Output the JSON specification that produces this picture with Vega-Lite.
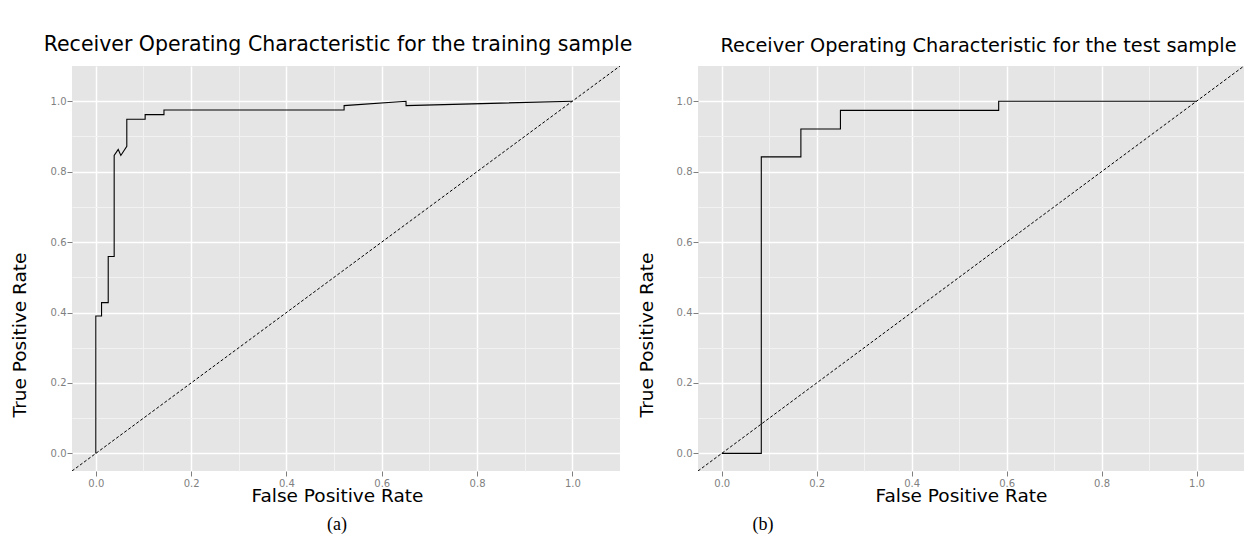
{
  "$schema": "https://vega.github.io/schema/vega-lite/v6.json",
  "padding": {"left": 10, "top": 34, "right": 0, "bottom": 0},
  "background": "white",
  "datasets": {
    "train": [
      {"step": 1, "fpr": 0, "tpr": 0},
      {"step": 2, "fpr": 0, "tpr": 0.39},
      {"step": 3, "fpr": 0.012, "tpr": 0.39},
      {"step": 4, "fpr": 0.012, "tpr": 0.428},
      {"step": 5, "fpr": 0.026, "tpr": 0.428},
      {"step": 6, "fpr": 0.026, "tpr": 0.559},
      {"step": 7, "fpr": 0.0385, "tpr": 0.559},
      {"step": 8, "fpr": 0.0385, "tpr": 0.846},
      {"step": 9, "fpr": 0.047, "tpr": 0.863},
      {"step": 10, "fpr": 0.0525, "tpr": 0.846},
      {"step": 11, "fpr": 0.065, "tpr": 0.872},
      {"step": 12, "fpr": 0.065, "tpr": 0.949},
      {"step": 13, "fpr": 0.1035, "tpr": 0.949},
      {"step": 14, "fpr": 0.1035, "tpr": 0.962},
      {"step": 15, "fpr": 0.143, "tpr": 0.962},
      {"step": 16, "fpr": 0.143, "tpr": 0.975},
      {"step": 17, "fpr": 0.521, "tpr": 0.975},
      {"step": 18, "fpr": 0.521, "tpr": 0.9875},
      {"step": 19, "fpr": 0.651, "tpr": 1.0},
      {"step": 20, "fpr": 0.651, "tpr": 0.9875},
      {"step": 21, "fpr": 1.0, "tpr": 1.0}
    ],
    "test": [
      {"step": 1, "fpr": 0, "tpr": 0},
      {"step": 2, "fpr": 0.0833, "tpr": 0},
      {"step": 3, "fpr": 0.0833, "tpr": 0.842},
      {"step": 4, "fpr": 0.1667, "tpr": 0.842},
      {"step": 5, "fpr": 0.1667, "tpr": 0.921},
      {"step": 6, "fpr": 0.25, "tpr": 0.921},
      {"step": 7, "fpr": 0.25, "tpr": 0.974},
      {"step": 8, "fpr": 0.5833, "tpr": 0.974},
      {"step": 9, "fpr": 0.5833, "tpr": 1.0},
      {"step": 10, "fpr": 1.0, "tpr": 1.0}
    ],
    "diag": [
      {"step": 1, "fpr": -0.05, "tpr": -0.05},
      {"step": 2, "fpr": 1.1, "tpr": 1.1}
    ]
  },
  "config": {
    "font": "DejaVu Sans",
    "view": {"fill": "#E5E5E5", "stroke": null},
    "axis": {
      "domain": false,
      "labelFont": "DejaVu Sans",
      "labelFontSize": 10,
      "labelColor": "#7F7F7F",
      "tickColor": "#7F7F7F",
      "tickSize": 5,
      "tickWidth": 1,
      "gridColor": "#FFFFFF",
      "gridWidth": 1.5,
      "titleFont": "DejaVu Sans",
      "titleFontSize": 18.5,
      "titleFontWeight": "normal",
      "titleColor": "#000000"
    },
    "title": {"font": "DejaVu Sans", "fontSize": 20.5, "fontWeight": "normal", "color": "#000000"}
  },
  "spacing": 4,
  "hconcat": [
    {
      "title": {"text": "(a)", "orient": "bottom", "font": "Liberation Serif", "fontSize": 18, "anchor": "middle", "frame": "group", "baseline": "alphabetic", "offset": 25, "dx": 265},
      "vconcat": [
        {
          "width": 548,
          "height": 405,
          "title": {"text": "Receiver Operating Characteristic for the training sample", "anchor": "middle", "frame": "group", "baseline": "alphabetic", "offset": -5, "dx": -8},
          "encoding": {
            "x": {"field": "fpr", "type": "quantitative", "title": "False Positive Rate",
              "scale": {"domain": [-0.05, 1.1], "nice": false, "zero": false},
              "axis": {
                "values": [0, 0.1, 0.2, 0.3, 0.4, 0.5, 0.6, 0.7, 0.8, 0.9, 1.0],
                "labelExpr": "round(datum.value*10) % 2 == 0 ? format(datum.value, '.1f') : ''",
                "labelPadding": 2,
                "tickOpacity": {"condition": {"test": "round(datum.value*10) % 2 == 0", "value": 1}, "value": 0},
                "gridColor": {"condition": {"test": "round(datum.value*10) % 2 == 0", "value": "#FFFFFF"}, "value": "#F2F2F2"},
                "gridWidth": {"condition": {"test": "round(datum.value*10) % 2 == 0", "value": 1.5}, "value": 1},
                "titleX": 265, "titleY": 30, "titleBaseline": "alphabetic"
              }},
            "y": {"field": "tpr", "type": "quantitative", "title": "True Positive Rate",
              "scale": {"domain": [-0.05, 1.1], "nice": false, "zero": false},
              "axis": {
                "values": [0, 0.1, 0.2, 0.3, 0.4, 0.5, 0.6, 0.7, 0.8, 0.9, 1.0],
                "labelExpr": "round(datum.value*10) % 2 == 0 ? format(datum.value, '.1f') : ''",
                "labelPadding": 1,
                "tickOpacity": {"condition": {"test": "round(datum.value*10) % 2 == 0", "value": 1}, "value": 0},
                "gridColor": {"condition": {"test": "round(datum.value*10) % 2 == 0", "value": "#FFFFFF"}, "value": "#F2F2F2"},
                "gridWidth": {"condition": {"test": "round(datum.value*10) % 2 == 0", "value": 1.5}, "value": 1},
                "titleX": -47, "titleY": 268.5, "titleBaseline": "alphabetic"
              }},
            "order": {"field": "step", "type": "quantitative"}
          },
          "layer": [
            {"data": {"name": "diag"}, "mark": {"type": "line", "color": "#000000", "strokeWidth": 1, "strokeDash": [3, 2], "clip": true}},
            {"data": {"name": "train"}, "mark": {"type": "line", "color": "#000000", "strokeWidth": 1.1}}
          ]
        }
      ]
    },
    {
      "title": {"text": "(b)", "orient": "bottom", "font": "Liberation Serif", "fontSize": 18, "anchor": "middle", "frame": "group", "baseline": "alphabetic", "offset": 25, "dx": 65},
      "vconcat": [
        {
          "width": 546,
          "height": 405,
          "title": {"text": "Receiver Operating Characteristic for the test sample", "fontSize": 19.3, "anchor": "middle", "frame": "group", "baseline": "alphabetic", "offset": -5, "dx": 7.5},
          "encoding": {
            "x": {"field": "fpr", "type": "quantitative", "title": "False Positive Rate",
              "scale": {"domain": [-0.05, 1.1], "nice": false, "zero": false},
              "axis": {
                "values": [0, 0.1, 0.2, 0.3, 0.4, 0.5, 0.6, 0.7, 0.8, 0.9, 1.0],
                "labelExpr": "round(datum.value*10) % 2 == 0 ? format(datum.value, '.1f') : ''",
                "labelPadding": 2,
                "tickOpacity": {"condition": {"test": "round(datum.value*10) % 2 == 0", "value": 1}, "value": 0},
                "gridColor": {"condition": {"test": "round(datum.value*10) % 2 == 0", "value": "#FFFFFF"}, "value": "#F2F2F2"},
                "gridWidth": {"condition": {"test": "round(datum.value*10) % 2 == 0", "value": 1.5}, "value": 1},
                "titleX": 263, "titleY": 30, "titleBaseline": "alphabetic"
              }},
            "y": {"field": "tpr", "type": "quantitative", "title": "True Positive Rate",
              "scale": {"domain": [-0.05, 1.1], "nice": false, "zero": false},
              "axis": {
                "values": [0, 0.1, 0.2, 0.3, 0.4, 0.5, 0.6, 0.7, 0.8, 0.9, 1.0],
                "labelExpr": "round(datum.value*10) % 2 == 0 ? format(datum.value, '.1f') : ''",
                "labelPadding": 1,
                "tickOpacity": {"condition": {"test": "round(datum.value*10) % 2 == 0", "value": 1}, "value": 0},
                "gridColor": {"condition": {"test": "round(datum.value*10) % 2 == 0", "value": "#FFFFFF"}, "value": "#F2F2F2"},
                "gridWidth": {"condition": {"test": "round(datum.value*10) % 2 == 0", "value": 1.5}, "value": 1},
                "titleX": -46, "titleY": 268.5, "titleBaseline": "alphabetic"
              }},
            "order": {"field": "step", "type": "quantitative"}
          },
          "layer": [
            {"data": {"name": "diag"}, "mark": {"type": "line", "color": "#000000", "strokeWidth": 1, "strokeDash": [3, 2], "clip": true}},
            {"data": {"name": "test"}, "mark": {"type": "line", "color": "#000000", "strokeWidth": 1.1}}
          ]
        }
      ]
    }
  ]
}
